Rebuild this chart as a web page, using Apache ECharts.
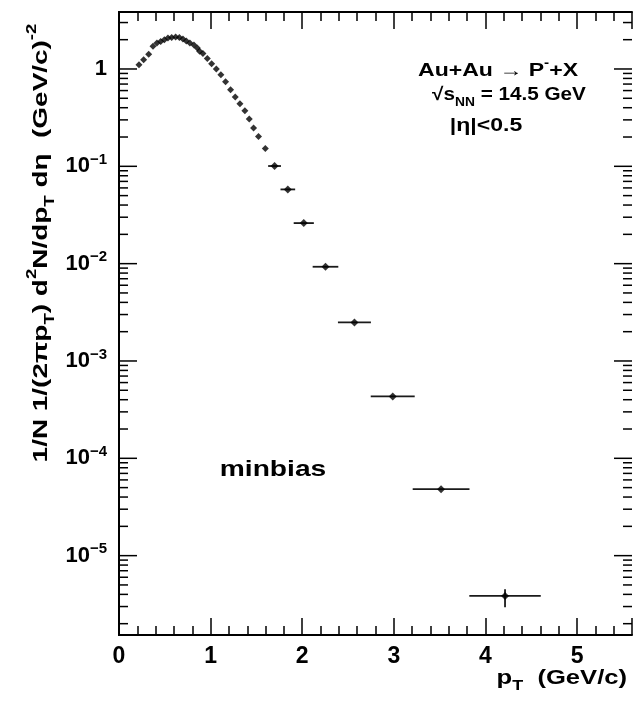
<!DOCTYPE html>
<html><head><meta charset="utf-8">
<script src="https://cdn.jsdelivr.net/npm/echarts@6/dist/echarts.min.js"></script>
<style>html,body{margin:0;padding:0;background:#fff}#c{width:636px;height:704px}</style>
</head><body><div id="c"></div>
<script>
// ---- data ----
const ptDense = [0.218,0.269,0.324,0.371,0.414,0.455,0.495,0.534,0.575,0.618,0.659,0.698,0.735,0.774,0.818,0.855,0.880,0.916,0.964,1.011,1.062,1.112,1.163,1.218,1.269,1.320,1.374,1.422,1.469,1.523,1.597];
const yieldDense = [1.107,1.246,1.413,1.71,1.85,1.92,2.0,2.08,2.11,2.13,2.11,2.03,1.94,1.85,1.76,1.64,1.52,1.44,1.28,1.13,1.0,0.874,0.74,0.612,0.515,0.44,0.373,0.306,0.248,0.203,0.152];
const ptSparse = [1.698,1.843,2.017,2.254,2.570,2.988,3.516,4.214];
const yieldSparse = [0.1007,0.0579,0.0261,0.00929,0.00249,4.32e-4,4.82e-5,3.86e-6];
const ptHalfWidth = [0.07,0.08,0.11,0.14,0.18,0.24,0.31,0.39];
const yieldErrLow = [0,0,0,0,0,0,0,2.95e-6];
const yieldErrHigh = [0,0,0,0,0,0,0,4.52e-6];
const xTickLabels = ['0','1','2','3','4','5'];
const yDecadeExponents = [0,-1,-2,-3,-4,-5];
const minorMultipliers = [2,3,4,5,6,7,8,9];
const minorDecades = [-6,-5,-4,-3,-2,-1,0];

const X_MIN = 0, X_MAX = 5.6, Y_MIN = 1.53e-6, Y_MAX = 3.85;
const FF = '"Liberation Sans", Arial, Helvetica, sans-serif';
const SX = 1.28; // horizontal stretch of the reference's lettering

// y tick list: [value, length]
const yTicks = [];
yDecadeExponents.forEach(e => yTicks.push([Math.pow(10, e), 18]));
minorDecades.forEach(d => minorMultipliers.forEach(m => {
  const v = m * Math.pow(10, d);
  if (v > Y_MIN && v < Y_MAX) yTicks.push([v, 9]);
}));

const denseData = ptDense.map((x, i) => [x, yieldDense[i]]);
const sparseData = ptSparse.map((x, i) => [x, yieldSparse[i], x - ptHalfWidth[i], x + ptHalfWidth[i], yieldErrLow[i] || yieldSparse[i], yieldErrHigh[i] || yieldSparse[i]]);

function yLabel(v) {
  const lg = Math.log10(v);
  const e = Math.round(lg);
  if (Math.abs(lg - e) > 1e-6 || yDecadeExponents.indexOf(e) < 0) return '';
  if (e === 0) return '{b|1}';
  return '{b|10}{s|\u2212' + (-e) + '}';
}

const chart = echarts.init(document.getElementById('c'), null, {renderer: 'canvas'});
const axisLine = {show: true, lineStyle: {color: '#000', width: 2}};
const tickStyle = {color: '#000', width: 1.5};
const option = {
  animation: false,
  backgroundColor: '#fff',
  grid: {left: 119, top: 12, width: 513, height: 623, containLabel: false},
  xAxis: [
    {type: 'value', min: X_MIN, max: X_MAX, interval: 1, position: 'bottom',
     axisLine, splitLine: {show: false},
     axisTick: {inside: true, length: 17, lineStyle: tickStyle},
     minorTick: {show: true, splitNumber: 5, length: 9, lineStyle: tickStyle},
     axisLabel: {margin: 10, color: '#000', fontSize: 23, fontWeight: 'bold', fontFamily: FF,
       showMaxLabel: false,
       formatter: v => { const i = Math.round(v); return Math.abs(v - i) < 1e-6 && xTickLabels[i] !== undefined ? xTickLabels[i] : ''; }}},
    {type: 'value', min: X_MIN, max: X_MAX, interval: 1, position: 'top',
     axisLine, splitLine: {show: false},
     axisTick: {inside: true, length: 17, lineStyle: tickStyle},
     minorTick: {show: true, splitNumber: 5, length: 9, lineStyle: tickStyle},
     axisLabel: {show: false}}
  ],
  yAxis: [
    {type: 'log', logBase: 10, min: Y_MIN, max: Y_MAX, position: 'left',
     axisLine, splitLine: {show: false}, axisTick: {show: false},
     axisLabel: {margin: 12, color: '#000', fontFamily: FF, showMinLabel: false, showMaxLabel: false,
       formatter: yLabel,
       rich: {
         b: {fontSize: 22, fontWeight: 'bold', fontFamily: FF, color: '#000', lineHeight: 28, verticalAlign: 'middle'},
         s: {fontSize: 15, fontWeight: 'bold', fontFamily: FF, color: '#000', verticalAlign: 'top'}
       }}},
    {type: 'log', logBase: 10, min: Y_MIN, max: Y_MAX, position: 'right',
     axisLine, splitLine: {show: false}, axisTick: {show: false}, axisLabel: {show: false}}
  ],
  series: [
    {type: 'custom', name: 'yTicks', xAxisIndex: 0, yAxisIndex: 0, silent: true, clip: false,
     data: yTicks.map(t => [X_MIN, t[0], t[1]]),
     renderItem: (params, api) => {
       const len = api.value(2);
       const pl = api.coord([X_MIN, api.value(1)]);
       const pr = api.coord([X_MAX, api.value(1)]);
       return {type: 'group', children: [
         {type: 'line', shape: {x1: pl[0], y1: pl[1], x2: pl[0] + len, y2: pl[1]}, style: {stroke: '#000', lineWidth: 1.5}},
         {type: 'line', shape: {x1: pr[0] - len, y1: pr[1], x2: pr[0], y2: pr[1]}, style: {stroke: '#000', lineWidth: 1.5}}
       ]};
     }},
    {type: 'custom', name: 'errors', xAxisIndex: 0, yAxisIndex: 0, silent: true,
     data: sparseData,
     renderItem: (params, api) => {
       const c = api.coord([api.value(0), api.value(1)]);
       const l = api.coord([api.value(2), api.value(1)]);
       const r = api.coord([api.value(3), api.value(1)]);
       const lo = api.coord([api.value(0), api.value(4)]);
       const hi = api.coord([api.value(0), api.value(5)]);
       const ch = [{type: 'line', shape: {x1: l[0], y1: c[1], x2: r[0], y2: c[1]}, style: {stroke: '#1a1a1a', lineWidth: 1.8}}];
       if (Math.abs(lo[1] - hi[1]) > 1) ch.push({type: 'line', shape: {x1: c[0], y1: hi[1], x2: c[0], y2: lo[1]}, style: {stroke: '#1a1a1a', lineWidth: 1.8}});
       return {type: 'group', children: ch};
     }},
    {type: 'scatter', name: 'dense', xAxisIndex: 0, yAxisIndex: 0, data: denseData,
     symbol: 'diamond', symbolSize: 7, itemStyle: {color: '#000'}},
    {type: 'scatter', name: 'sparse', xAxisIndex: 0, yAxisIndex: 0, data: sparseData.map(d => [d[0], d[1]]),
     symbol: 'diamond', symbolSize: 8, itemStyle: {color: '#000'}}
  ],
  graphic: [
    {type: 'text', x: 41, y: 243, rotation: Math.PI / 2, scaleX: 1.33,
     style: {
       text: '{n|1/N 1/(2\u03C0p}{sub|T}{n|) d}{sup|2}{n|N/dp}{sub|T}{n| d\u03B7  (GeV/c)}{sup|-2}',
       align: 'center', verticalAlign: 'middle',
       rich: {
         n: {fontSize: 21, fontWeight: 'bold', fontFamily: FF, fill: '#000', lineHeight: 32, verticalAlign: 'middle'},
         sub: {fontSize: 14, fontWeight: 'bold', fontFamily: FF, fill: '#000', verticalAlign: 'bottom'},
         sup: {fontSize: 14, fontWeight: 'bold', fontFamily: FF, fill: '#000', verticalAlign: 'top'}
       }
     }},
    {type: 'text', x: 627, y: 678, scaleX: SX,
     style: {
       text: '{n|p}{sub|T}{n|  (GeV/c)}', align: 'right', verticalAlign: 'middle',
       rich: {
         n: {fontSize: 20, fontWeight: 'bold', fontFamily: FF, fill: '#000', lineHeight: 30, verticalAlign: 'middle'},
         sub: {fontSize: 14, fontWeight: 'bold', fontFamily: FF, fill: '#000', verticalAlign: 'bottom'}
       }
     }},
    {type: 'text', x: 498, y: 71, scaleX: SX,
     style: {
       text: '{n|Au+Au \u2192 P}{sup|-}{n|+X}', align: 'center', verticalAlign: 'middle',
       rich: {
         n: {fontSize: 18, fontWeight: 'bold', fontFamily: FF, fill: '#000', lineHeight: 26, verticalAlign: 'middle'},
         sup: {fontSize: 12, fontWeight: 'bold', fontFamily: FF, fill: '#000', verticalAlign: 'top'}
       }
     }},
    {type: 'text', x: 509, y: 95, scaleX: 1.15,
     style: {
       text: '{n|\u221As}{sub|NN}{n| = 14.5 GeV}', align: 'center', verticalAlign: 'middle',
       rich: {
         n: {fontSize: 18, fontWeight: 'bold', fontFamily: FF, fill: '#000', lineHeight: 28, verticalAlign: 'middle'},
         sub: {fontSize: 12, fontWeight: 'bold', fontFamily: FF, fill: '#000', verticalAlign: 'bottom'}
       }
     }},
    {type: 'text', x: 486, y: 126, scaleX: SX,
     style: {
       text: '|\u03B7|<0.5', align: 'center', verticalAlign: 'middle',
       fontSize: 18, fontWeight: 'bold', fontFamily: FF, fill: '#000'
     }},
    {type: 'text', x: 273, y: 470, scaleX: SX,
     style: {
       text: 'minbias', align: 'center', verticalAlign: 'middle',
       fontSize: 22, fontWeight: 'bold', fontFamily: FF, fill: '#000'
     }}
  ]
};
chart.setOption(option);
</script>
</body></html>
